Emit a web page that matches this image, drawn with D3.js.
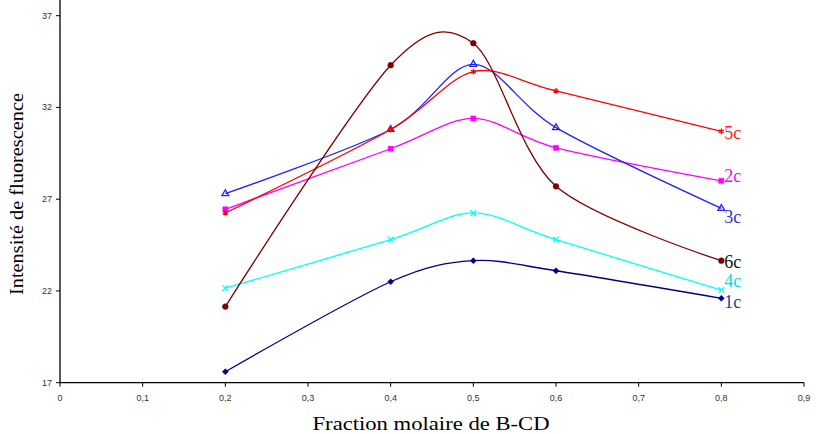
<!DOCTYPE html>
<html>
<head>
<style>
  body {
    background-color: white;
    margin: 0px;
  }
  svg text.tick {
    font-family: "Liberation Sans", Arial, sans-serif;
    font-size: 9px;
    fill: #333;
  }
  svg text.title {
    font-family: "Liberation Serif", "Times New Roman", serif;
    font-size: 18px;
    fill: black;
  }
</style>
<script src="https://cdn.jsdelivr.net/npm/d3@7"></script>
</head>
<body>
  <svg></svg>
</body>
<script>
const fractions = [0.2, 0.4, 0.5, 0.6, 0.8];
const seriesNames = ["1c", "2c", "3c", "4c", "5c", "6c"];
const values1c = [17.6, 22.5, 23.65, 23.1, 21.6];
const values2c = [26.45, 29.75, 31.4, 29.8, 28.0];
const values3c = [27.3, 30.8, 34.35, 30.9, 26.5];
const values4c = [22.15, 24.8, 26.25, 24.8, 22.05];
const values5c = [26.25, 30.8, 33.95, 32.9, 30.7];
const values6c = [21.15, 34.3, 35.5, 27.7, 23.65];
const xTicks = [0, 0.1, 0.2, 0.3, 0.4, 0.5, 0.6, 0.7, 0.8, 0.9];
const yTicks = [17, 22, 27, 32, 37];

const width = 838, height = 434;

const series = [
  {values: values1c, color: "#000080", label: "#3333a0", marker: "diamond", dy: 4},
  {values: values2c, color: "#ff00ff", label: "#ff00ff", marker: "square", dy: -5},
  {values: values3c, color: "#2020ff", label: "#3333cc", marker: "triangle", dy: 9},
  {values: values4c, color: "#00ffff", label: "#00e0e0", marker: "cross", dy: -9},
  {values: values5c, color: "#ff0000", label: "#ff2020", marker: "star", dy: 2},
  {values: values6c, color: "#800000", label: "#111", marker: "circle", dy: 1}
];
series.forEach(function(s, i) {s.name = seriesNames[i]});

const svg = d3.select("svg")
    .attr("width", width)
    .attr("height", height);

const x = d3.scaleLinear().domain([0, 0.9]).range([60, 804]);
const y = d3.scaleLinear().domain([17, 37]).range([382.7, 15.7]);

// axes
svg.append("line")
    .attr("x1", x(0)).attr("x2", x(0))
    .attr("y1", 0).attr("y2", y(17))
    .attr("stroke", "black").attr("stroke-width", 1.3);
svg.append("line")
    .attr("x1", x(0)).attr("x2", x(0.9))
    .attr("y1", y(17)).attr("y2", y(17))
    .attr("stroke", "black").attr("stroke-width", 1.3);

const fmt = function(d) {return String(d).replace(".", ",")};

yTicks.forEach(function(t) {
  svg.append("line")
      .attr("x1", x(0) - 4).attr("x2", x(0))
      .attr("y1", y(t)).attr("y2", y(t))
      .attr("stroke", "black");
  svg.append("text").attr("class", "tick")
      .attr("x", x(0) - 8).attr("y", y(t) + 3)
      .attr("text-anchor", "end")
      .text(t);
});

xTicks.forEach(function(t) {
  svg.append("line")
      .attr("x1", x(t)).attr("x2", x(t))
      .attr("y1", y(17)).attr("y2", y(17) + 4)
      .attr("stroke", "black");
  svg.append("text").attr("class", "tick")
      .attr("x", x(t)).attr("y", y(17) + 18)
      .attr("text-anchor", "middle")
      .text(fmt(t));
});

// axis titles, stretched like the original
svg.append("text").attr("class", "title")
    .attr("x", 431).attr("y", 430)
    .attr("text-anchor", "middle")
    .style("font-size", "18.5px")
    .attr("textLength", 237)
    .attr("lengthAdjust", "spacingAndGlyphs")
    .text("Fraction molaire de B-CD");

svg.append("text").attr("class", "title")
    .attr("transform", "translate(23,194) rotate(-90)")
    .attr("text-anchor", "middle")
    .style("font-size", "19px")
    .attr("textLength", 202)
    .attr("lengthAdjust", "spacingAndGlyphs")
    .text("Intensité de fluorescence");

const line = d3.line()
    .curve(d3.curveCardinal.tension(0.1))
    .x(function(d, i) {return x(fractions[i])})
    .y(function(d) {return y(d)});

const symbols = {
  diamond: d3.symbol().type(d3.symbolSquare).size(18),
  square: d3.symbol().type(d3.symbolSquare).size(26),
  triangle: d3.symbol().type(d3.symbolTriangle).size(20),
  cross: d3.symbol().type(d3.symbolTimes).size(22),
  star: d3.symbol().type(d3.symbolAsterisk).size(22),
  circle: d3.symbol().type(d3.symbolCircle).size(26)
};

series.forEach(function(s) {
  svg.append("path")
      .attr("d", line(s.values))
      .attr("fill", "none")
      .attr("stroke", s.color)
      .attr("stroke-width", 1.3);

  const open = s.marker == "triangle" || s.marker == "cross" || s.marker == "star";
  svg.selectAll(null)
      .data(s.values)
      .join("path")
      .attr("transform", function(d, i) {
        return "translate(" + x(fractions[i]) + "," + y(d) + ")" + (s.marker == "diamond" ? " rotate(45)" : "");
      })
      .attr("d", symbols[s.marker]())
      .attr("fill", open ? "none" : s.color)
      .attr("stroke", s.color)
      .attr("stroke-width", open ? 1.3 : 0.5);

  const last = s.values[s.values.length - 1];
  svg.append("text").attr("class", "title")
      .attr("x", x(0.8) + 3)
      .attr("y", y(last) + s.dy + 6)
      .style("fill", s.label)
      .text(s.name);
});
</script>
</html>
